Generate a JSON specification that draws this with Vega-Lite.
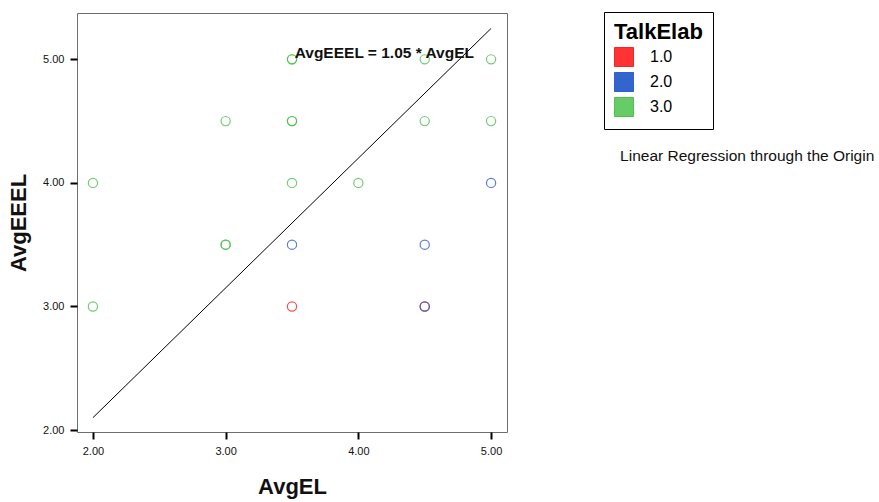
{
  "$schema": "https://vega.github.io/schema/vega-lite/v6.json",
  "autosize": {"type": "none"},
  "padding": {"left": 77, "top": 13, "right": 372, "bottom": 70},
  "width": 430,
  "height": 419,
  "background": "white",
  "config": {
    "view": {"stroke": "#6e6e6e", "strokeWidth": 1},
    "font": "Liberation Sans",
    "axis": {
      "domain": false,
      "grid": false,
      "tickColor": "black",
      "tickWidth": 2,
      "tickSize": 7,
      "labelFont": "Liberation Sans",
      "labelFontSize": 11,
      "labelColor": "#111111",
      "titleFont": "Liberation Sans",
      "titleFontSize": 22,
      "titleFontWeight": "bold",
      "titleColor": "#111111"
    }
  },
  "datasets": {
    "points": [
      {"AvgEL": 2.0, "AvgEEEL": 4.0, "TalkElab": "3.0"},
      {"AvgEL": 2.0, "AvgEEEL": 3.0, "TalkElab": "3.0"},
      {"AvgEL": 3.0, "AvgEEEL": 4.5, "TalkElab": "3.0"},
      {"AvgEL": 3.0, "AvgEEEL": 3.5, "TalkElab": "3.0"},
      {"AvgEL": 3.0, "AvgEEEL": 3.5, "TalkElab": "3.0"},
      {"AvgEL": 3.5, "AvgEEEL": 5.0, "TalkElab": "3.0"},
      {"AvgEL": 3.5, "AvgEEEL": 5.0, "TalkElab": "3.0"},
      {"AvgEL": 3.5, "AvgEEEL": 4.5, "TalkElab": "3.0"},
      {"AvgEL": 3.5, "AvgEEEL": 4.5, "TalkElab": "3.0"},
      {"AvgEL": 3.5, "AvgEEEL": 4.0, "TalkElab": "3.0"},
      {"AvgEL": 4.0, "AvgEEEL": 4.0, "TalkElab": "3.0"},
      {"AvgEL": 4.5, "AvgEEEL": 5.0, "TalkElab": "3.0"},
      {"AvgEL": 4.5, "AvgEEEL": 4.5, "TalkElab": "3.0"},
      {"AvgEL": 5.0, "AvgEEEL": 5.0, "TalkElab": "3.0"},
      {"AvgEL": 5.0, "AvgEEEL": 4.5, "TalkElab": "3.0"},
      {"AvgEL": 3.5, "AvgEEEL": 3.0, "TalkElab": "1.0"},
      {"AvgEL": 4.5, "AvgEEEL": 3.0, "TalkElab": "1.0"},
      {"AvgEL": 3.5, "AvgEEEL": 3.5, "TalkElab": "2.0"},
      {"AvgEL": 4.5, "AvgEEEL": 3.5, "TalkElab": "2.0"},
      {"AvgEL": 4.5, "AvgEEEL": 3.0, "TalkElab": "2.0"},
      {"AvgEL": 5.0, "AvgEEEL": 4.0, "TalkElab": "2.0"}
    ],
    "fit": [
      {"AvgEL": 2.0, "AvgEEEL": 2.1},
      {"AvgEL": 5.0, "AvgEEEL": 5.25}
    ],
    "labels": [
      {"AvgEL": 3.52, "AvgEEEL": 5.05, "text": "AvgEEEL = 1.05 * AvgEL", "kind": "eq"},
      {"AvgEL": 6.93, "AvgEEEL": 4.22, "text": "Linear Regression through the Origin", "kind": "note"}
    ]
  },
  "layer": [
    {
      "data": {"name": "fit"},
      "mark": {"type": "line", "color": "black", "strokeWidth": 1},
      "encoding": {
        "x": {"field": "AvgEL", "type": "quantitative"},
        "y": {"field": "AvgEEEL", "type": "quantitative"}
      }
    },
    {
      "data": {"name": "points"},
      "mark": {"type": "point", "shape": "circle", "filled": false, "size": 85, "strokeWidth": 1.2, "opacity": 0.8},
      "encoding": {
        "x": {
          "field": "AvgEL", "type": "quantitative",
          "scale": {"domain": [1.88, 5.12], "nice": false, "zero": false},
          "axis": {"values": [2, 3, 4, 5], "format": ".2f", "title": "AvgEL", "labelPadding": 6, "titlePadding": 20}
        },
        "y": {
          "field": "AvgEEEL", "type": "quantitative",
          "scale": {"domain": [1.984, 5.375], "nice": false, "zero": false},
          "axis": {"values": [2, 3, 4, 5], "format": ".2f", "title": "AvgEEEL", "labelPadding": 6, "titlePadding": 12}
        },
        "color": {
          "field": "TalkElab", "type": "nominal",
          "scale": {"domain": ["1.0", "2.0", "3.0"], "range": ["#f02828", "#2f5fd0", "#4fbf4f"]},
          "legend": {
            "orient": "none",
            "legendX": 527,
            "legendY": -1,
            "title": "TalkElab",
            "titleFont": "Liberation Sans",
            "titleFontSize": 22,
            "titleFontWeight": "bold",
            "titleColor": "black",
            "titlePadding": 3,
            "labelFont": "Liberation Sans",
            "labelFontSize": 16,
            "labelColor": "black",
            "labelOffset": 16,
            "symbolType": "square",
            "symbolSize": 361,
            "symbolStrokeWidth": 1,
            "symbolOpacity": 1,
            "rowPadding": 1,
            "padding": 10,
            "strokeColor": "black",
            "fillColor": "white",
            "encoding": {
              "symbols": {
                "fill": {
                  "condition": [
                    {"test": "datum.value === '1.0'", "value": "#ff3333"},
                    {"test": "datum.value === '2.0'", "value": "#3366cc"}
                  ],
                  "value": "#66cc66"
                },
                "stroke": {"value": "#111111"},
                "strokeWidth": {"value": 1},
                "opacity": {"value": 1}
              }
            }
          }
        }
      }
    },
    {
      "data": {"name": "labels"},
      "transform": [{"filter": "datum.kind === 'eq'"}],
      "mark": {"type": "text", "align": "left", "baseline": "middle", "font": "Liberation Sans", "fontSize": 15.5, "fontWeight": "bold", "color": "#111111"},
      "encoding": {
        "x": {"field": "AvgEL", "type": "quantitative"},
        "y": {"field": "AvgEEEL", "type": "quantitative"},
        "text": {"field": "text"}
      }
    },
    {
      "data": {"name": "labels"},
      "transform": [{"filter": "datum.kind === 'note'"}],
      "mark": {"type": "text", "align": "center", "baseline": "middle", "font": "Liberation Sans", "fontSize": 15.5, "color": "#111111"},
      "encoding": {
        "x": {"field": "AvgEL", "type": "quantitative"},
        "y": {"field": "AvgEEEL", "type": "quantitative"},
        "text": {"field": "text"}
      }
    }
  ]
}
